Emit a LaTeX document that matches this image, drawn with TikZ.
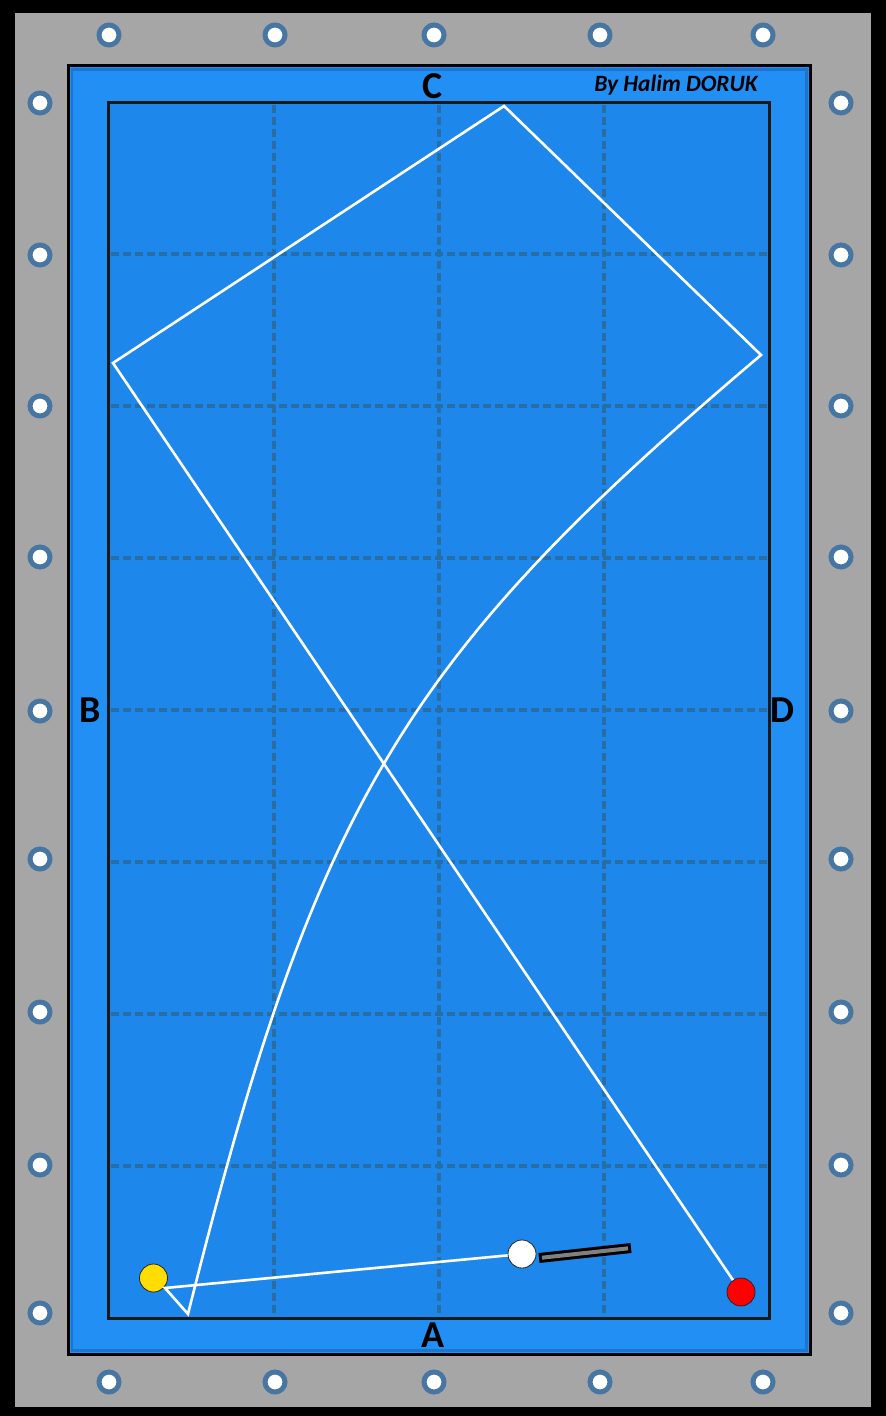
\documentclass[tikz,border=0pt]{standalone}
\usepackage{fontspec}
\setmainfont{Carlito}
\usetikzlibrary{positioning,calc}
\definecolor{bilframe}{RGB}{166,166,166}
\definecolor{bilcloth}{RGB}{30,135,235}
\definecolor{bilcushion}{RGB}{33,143,243}
\definecolor{bilcushdark}{RGB}{26,118,208}
\definecolor{bilgrid}{RGB}{40,110,165}
\definecolor{bildiamond}{RGB}{72,118,162}
\definecolor{bilyellow}{RGB}{255,221,0}
\definecolor{bilred}{RGB}{255,0,0}
\definecolor{bilcue}{RGB}{128,128,128}
\tikzset{
  bil/.style={text=black, inner sep=0pt},
  bilrail/.style={bil, font=\fontsize{19}{19}\selectfont\bfseries},
  bilsign/.style={bil, font=\fontsize{11.7}{12}\selectfont\bfseries\itshape},
  bildot/.style={circle, draw=bildiamond, fill=white, line width=2.5pt,
    minimum size=10pt, inner sep=0pt},
  bilball/.style={circle, draw=black!85, fill=#1, line width=0.4pt,
    minimum size=14pt, inner sep=0pt},
  bilgridline/.style={draw=bilgrid, line width=2.2pt, dash pattern=on 4pt off 2pt},
  bilshot/.style={draw=white, line width=1.3pt, line join=miter},
}

\begin{document}
\begin{tikzpicture}[x=0.5pt, y=-0.5pt]
    % Cadre et bandes
    \fill[black] (0,0) rectangle (886,1416);
    \fill[bilframe] (15,13) rectangle (871,1407);
    \draw[fill=bilcushion, draw=black, line width=1.5pt] (68.5,66) rectangle (810,1354);
    \draw[bilcushdark, line width=1.2pt] (72,69.5) rectangle (806.5,1350.5);
    \draw[fill=bilcloth, draw=black!90, line width=1.5pt] (108.5,102.5) rectangle (769.5,1318);

    % Quadrillage
    \foreach \gx in {274,439,604}
      \draw[bilgridline] (\gx,105) -- (\gx,1315);
    \foreach \gy in {254,406,558,710,862,1014,1166}
      \draw[bilgridline] (111,\gy) -- (767,\gy);

    % Mouches
    \foreach \dx [count=\i] in {109,275,434,600,763} {
      \node[bildot] (dt\i) at (\dx,35) {};
      \node[bildot] (db\i) at (\dx,1382) {};
    }
    \foreach \dy [count=\i] in {103,255,406,557,711,859,1012,1165,1313} {
      \node[bildot] (dl\i) at (40,\dy) {};
      \node[bildot] (dr\i) at (841,\dy) {};
    }

    % Bandes A-D
    \node[bilrail] (railC) at (433,86) {C};
    \node[bilrail] (railA) at (433,1335) {A};
    \node[bilrail] (railB) at (90,710) {B};
    \node[bilrail] (railD) at (782,710) {D};
    \node[bilsign, anchor=base] (author) at (676,92) {By Halim DORUK};

    % Billes
    \node[bilball=bilyellow] (yellow) at (153.5,1278) {};
    \node[bilball=white] (cueball) at (522,1254) {};
    \node[bilball=bilred] (red) at (741,1292) {};

    % Queue
    \coordinate (cuetip) at (539,1258);
    \coordinate (cuebutt) at (631,1248);
    \draw[black, line width=5pt] (cuetip) -- (cuebutt);
    \draw[bilcue, line width=2pt, shorten <=1.5pt, shorten >=1.5pt] (cuetip) -- (cuebutt);

    % Trajectoire
    \coordinate (kiss) at (165,1288);
    \coordinate (hitA) at (188,1314);
    \coordinate (hitD) at (761,355);
    \coordinate (hitC) at (504,106);
    \coordinate (hitB) at (113,363);
    \draw[bilshot] (cueball) -- (kiss) -- (hitA)
      .. controls (316,803) and (402,659) .. (hitD) -- (hitC) -- (hitB) -- (red);
  \end{tikzpicture}
\end{document}
